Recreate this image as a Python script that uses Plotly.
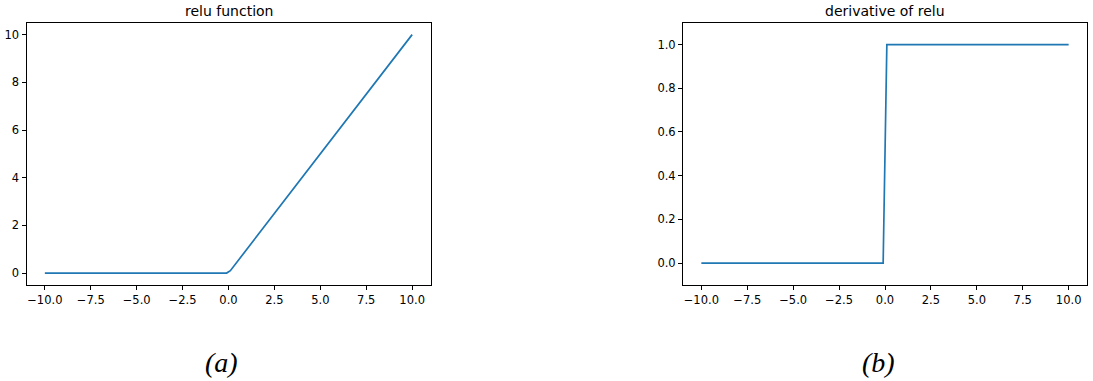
import plotly.graph_objects as go

# Data
relu_x = [-10.0, -0.101, 0.101, 10.0]
relu_y = [0.0, 0.0, 0.101, 10.0]
drelu_x = [-10.0, -0.101, 0.101, 10.0]
drelu_y = [0.0, 0.0, 1.0, 1.0]

x_ticks = [-10.0, -7.5, -5.0, -2.5, 0.0, 2.5, 5.0, 7.5, 10.0]
relu_yticks = [0, 2, 4, 6, 8, 10]
drelu_yticks = [0.0, 0.2, 0.4, 0.6, 0.8, 1.0]

titles = ["relu function", "derivative of relu"]
captions = ["(a)", "(b)"]

W, H = 1093, 381
LINE = "#1f77b4"

left_dom = [26.5 / W, 430.5 / W]
right_dom = [683.0 / W, 1087.0 / W]
y_dom = [1 - 285.0 / H, 1 - 22.7 / H]

fig = go.Figure()
fig.add_trace(go.Scatter(x=relu_x, y=relu_y, mode="lines",
                         line=dict(color=LINE, width=1.7), xaxis="x", yaxis="y",
                         showlegend=False))
fig.add_trace(go.Scatter(x=drelu_x, y=drelu_y, mode="lines",
                         line=dict(color=LINE, width=1.7), xaxis="x2", yaxis="y2",
                         showlegend=False))

tickfont = dict(family="DejaVu Sans", size=11.5, color="#000000")
common = dict(showline=True, mirror=True, linecolor="#000000", linewidth=1,
              ticks="outside", ticklen=4, tickwidth=1, tickcolor="#000000",
              showgrid=False, zeroline=False, tickfont=tickfont)

fig.update_layout(
    width=W, height=H,
    margin=dict(l=0, r=0, t=0, b=0),
    paper_bgcolor="white", plot_bgcolor="white",
    xaxis=dict(domain=left_dom, range=[-11, 11], tickmode="array",
               tickvals=x_ticks, ticktext=[f"{v:.1f}".replace("-", "\u2212") for v in x_ticks],
               anchor="y", **common),
    yaxis=dict(domain=y_dom, range=[-0.5, 10.5], tickmode="array",
               tickvals=relu_yticks, ticktext=[str(v) for v in relu_yticks],
               anchor="x", **common),
    xaxis2=dict(domain=right_dom, range=[-11, 11], tickmode="array",
                tickvals=x_ticks, ticktext=[f"{v:.1f}".replace("-", "\u2212") for v in x_ticks],
                anchor="y2", **common),
    yaxis2=dict(domain=y_dom, range=[-0.1, 1.1], tickmode="array",
                tickvals=drelu_yticks, ticktext=[f"{v:.1f}" for v in drelu_yticks],
                anchor="x2", **common),
)

for dom, t, c in zip([left_dom, right_dom], titles, captions):
    cx = (dom[0] + dom[1]) / 2
    fig.add_annotation(x=cx, y=y_dom[1], xref="paper", yref="paper",
                       text=t, showarrow=False, xanchor="center", yanchor="bottom",
                       yshift=2, font=dict(family="DejaVu Sans", size=14, color="#000000"))
cap_x = [221.5 / W, 878.8 / W]
for cx, c in zip(cap_x, captions):
    fig.add_annotation(x=cx, y=1 - 362.0 / H, xref="paper", yref="paper",
                       text=f"<i>{c}</i>", showarrow=False, xanchor="center", yanchor="middle",
                       font=dict(family="Liberation Serif", size=28, color="#000000"))

fig.write_html("out.html")
